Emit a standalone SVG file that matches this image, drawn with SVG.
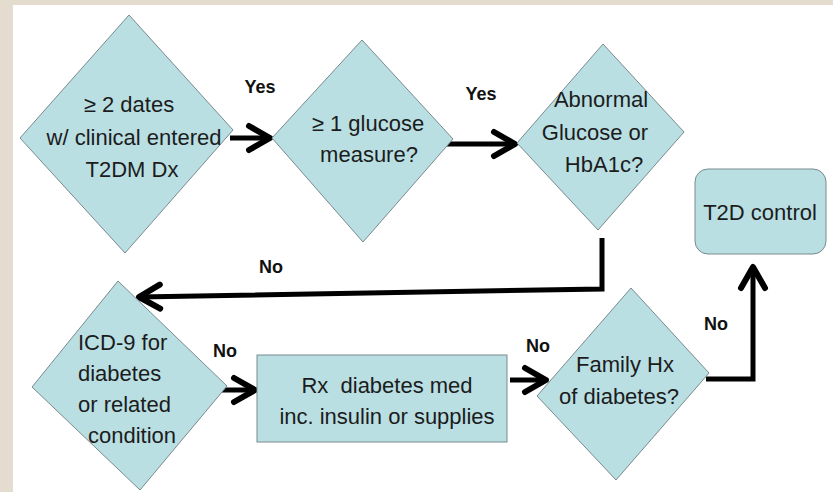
<svg xmlns="http://www.w3.org/2000/svg" width="833" height="492" viewBox="0 0 833 492">
<style>
.shape{fill:#B9DFE3;stroke:#7A8A8E;stroke-width:1}
.t{font-family:"Liberation Sans",Arial,sans-serif;font-size:22px;fill:#1C1C1C;text-anchor:middle;white-space:pre}
.tl{text-anchor:start}
.lbl{font-family:"Liberation Sans",Arial,sans-serif;font-size:18px;font-weight:bold;fill:#111;text-anchor:middle}
.conn{fill:none;stroke:#000;stroke-width:5;stroke-linejoin:miter}
</style>
<defs>
<marker id="arr" markerUnits="userSpaceOnUse" markerWidth="40" markerHeight="40" refX="0" refY="0" viewBox="-30 -20 40 40" orient="auto" overflow="visible">
<path d="M-21,-12 L0,0 L-21,12" fill="none" stroke="#000" stroke-width="6" stroke-linecap="round" stroke-linejoin="round"/>
</marker>
</defs>
<rect x="0" y="0" width="833" height="492" fill="#FFFFFF"/>
<rect x="0" y="0" width="833" height="5" fill="#E4DCCF"/>
<rect x="0" y="0" width="13" height="492" fill="#E4DCCF"/>

<g id="connectors">
<line class="conn" x1="230" y1="138" x2="270" y2="138" marker-end="url(#arr)"/>
<line class="conn" x1="445" y1="144" x2="515" y2="144" marker-end="url(#arr)"/>
<polyline class="conn" points="602,238 602,289 139,297" marker-end="url(#arr)"/>
<line class="conn" x1="222" y1="390" x2="255" y2="390" marker-end="url(#arr)"/>
<line class="conn" x1="510" y1="380" x2="546" y2="380" marker-end="url(#arr)"/>
<polyline class="conn" points="706,379 753,379 753,267" marker-end="url(#arr)"/>
<text class="lbl" x="260" y="93">Yes</text>
<text class="lbl" x="481" y="100">Yes</text>
<text class="lbl" x="271" y="273">No</text>
<text class="lbl" x="225" y="357">No</text>
<text class="lbl" x="538" y="352">No</text>
<text class="lbl" x="716" y="330">No</text>
</g>

<g id="n1">
<polygon class="shape" points="129,15 233,130 125,253 20,138"/>
<text class="t" x="129" y="112">≥ 2 dates</text>
<text class="t" x="134" y="145" font-size="23">w/ clinical entered</text>
<text class="t" x="132" y="177">T2DM Dx</text>
</g>
<g id="n2">
<polygon class="shape" points="362,40 453,139 363,242 272,138"/>
<text class="t" x="368" y="131">≥ 1 glucose</text>
<text class="t" x="369" y="162">measure?</text>
</g>
<g id="n3">
<polygon class="shape" points="603,44 684,132 598,230 517,143"/>
<text class="t" x="601" y="107">Abnormal</text>
<text class="t" x="595" y="140">Glucose or</text>
<text class="t" x="604" y="172">HbA1c?</text>
</g>
<g id="n4">
<rect class="shape" x="695" y="169" width="131" height="85" rx="13" ry="13"/>
<text class="t" x="760" y="220" font-size="23">T2D control</text>
</g>
<g id="n5">
<polygon class="shape" points="118,281 227,386 140,490 32,387"/>
<text class="t tl" x="78" y="350">ICD-9 for</text>
<text class="t tl" x="78" y="381">diabetes</text>
<text class="t tl" x="78" y="412">or related</text>
<text class="t tl" x="88" y="443">condition</text>
</g>
<g id="n6">
<rect class="shape" x="257" y="355" width="250" height="87"/>
<text class="t" x="387" y="393">Rx  diabetes med</text>
<text class="t" x="387" y="424">inc. insulin or supplies</text>
</g>
<g id="n7">
<polygon class="shape" points="631,288 709,373 616,480 537,396"/>
<text class="t" x="625" y="372">Family Hx</text>
<text class="t" x="619" y="404">of diabetes?</text>
</g>
</svg>
